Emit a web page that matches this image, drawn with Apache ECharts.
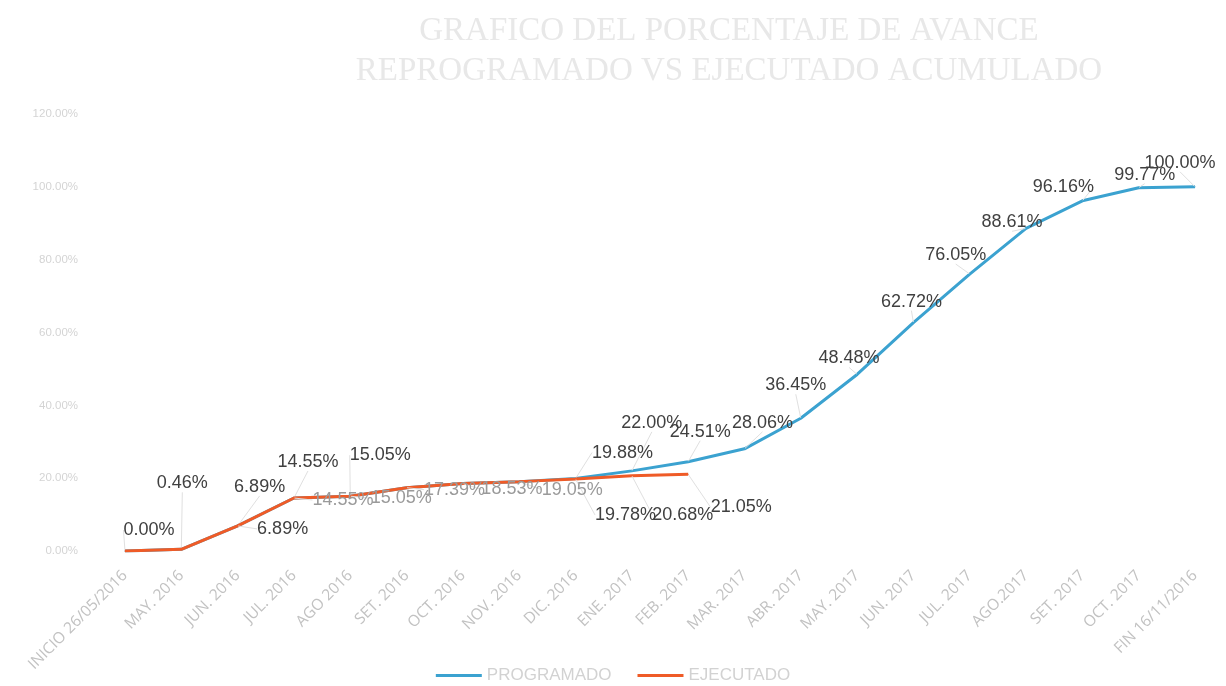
<!DOCTYPE html>
<html>
<head>
<meta charset="utf-8">
<script src="https://cdn.jsdelivr.net/npm/echarts@6/dist/echarts.min.js"></script>
<style>html,body{margin:0;padding:0;background:#fff}#c{width:1226px;height:686px}</style>
</head>
<body>
<div id="c"></div>
<script>
const categories = ['INICIO 26/05/2016','MAY. 2016','JUN. 2016','JUL. 2016','AGO 2016','SET. 2016','OCT. 2016','NOV. 2016','DIC. 2016','ENE. 2017','FEB. 2017','MAR. 2017','ABR. 2017','MAY. 2017','JUN. 2017','JUL. 2017','AGO.2017','SET. 2017','OCT. 2017','FIN 16/11/2016'];
const programado = [0.00, 0.46, 6.89, 14.55, 15.05, 17.39, 18.53, 19.05, 19.88, 22.00, 24.51, 28.06, 36.45, 48.48, 62.72, 76.05, 88.61, 96.16, 99.77, 100.00];
const ejecutado = [0.00, 0.46, 6.89, 14.55, 15.05, 17.39, 18.53, 19.05, 19.78, 20.68, 21.05];
const yTicks = [0, 20, 40, 60, 80, 100, 120];
const seriesNames = ['PROGRAMADO', 'EJECUTADO'];

// label placement (style only): [dx, dy] from the point, null = hidden
const progLabelShift = [[24,-21],[1,-66],[22,-39],[14,-36],[30,-41],null,null,null,[47,-26],[20,-48],[12,-30],[18,-26],[-5,-33],[-8,-16],[-2,-21],[-14,-19],[-14,-6],[-19,-14],[6,-13],[-15,-24]];
const ejecLabelShift = [null,null,[45,3],[49,2],[51,2],[48,2],[49,6],[53,8],[50,36],[51,39],[53,33]];
const ejecGray = [false,false,false,true,true,true,true,true,false,false,false];

function buildData(vals, shifts, grayFlags) {
  return vals.map((v, i) => {
    const s = shifts[i];
    if (!s) return { value: v, label: { show: false } };
    const item = { value: v };
    if (grayFlags && grayFlags[i]) item.label = { color: '#9a9a9a' };
    return item;
  });
}

const chart = echarts.init(document.getElementById('c'));
const labelBase = {
  show: true, position: 'inside', fontFamily: 'Liberation Sans', fontSize: 18, color: '#404040',
  formatter: p => p.value.toFixed(2) + '%'
};
chart.setOption({
  backgroundColor: '#ffffff',
  animation: false,
  title: {
    text: 'GRAFICO DEL PORCENTAJE DE AVANCE\nREPROGRAMADO VS EJECUTADO ACUMULADO',
    left: 724, top: 6, textAlign: 'center',
    textStyle: { fontFamily: 'Liberation Serif', fontSize: 33, lineHeight: 40, fontWeight: 'normal', color: '#e8e8e8' }
  },
  legend: {
    bottom: -3, left: 'center', itemGap: 26, itemWidth: 46, itemHeight: 3, icon: 'rect',
    textStyle: { color: '#d2d2d2', fontSize: 17, fontFamily: 'Liberation Sans' },
    data: seriesNames
  },
  grid: { left: 125, right: 31, top: 114, bottom: 135, containLabel: false },
  xAxis: {
    type: 'category', data: categories, boundaryGap: false,
    axisLine: { show: false }, axisTick: { show: false },
    axisLabel: { rotate: 45, margin: 22, fontSize: 15.5, color: '#c2c2c2', fontFamily: 'Open Sans', interval: 0 }
  },
  yAxis: {
    type: 'value', min: 0, max: 120, interval: 20,
    splitLine: { show: false }, axisLine: { show: false }, axisTick: { show: false },
    axisLabel: { margin: 47, fontSize: 11.5, color: '#d4d4d4', fontFamily: 'Liberation Sans',
      formatter: v => yTicks.includes(v) ? v.toFixed(2) + '%' : '' }
  },
  series: [
    {
      name: seriesNames[0], type: 'line', data: buildData(programado, progLabelShift, null),
      symbol: 'circle', symbolSize: 1, z: 2,
      lineStyle: { color: '#3ba2d0', width: 3 }, itemStyle: { color: '#3ba2d0' },
      label: labelBase,
      labelLine: { show: true, lineStyle: { color: '#e0e0e0', width: 1 } },
      labelLayout: p => { const s = progLabelShift[p.dataIndex]; return s ? { dx: s[0], dy: s[1] } : {}; }
    },
    {
      name: seriesNames[1], type: 'line', data: buildData(ejecutado, ejecLabelShift, ejecGray),
      symbol: 'circle', symbolSize: 1, z: 3,
      lineStyle: { color: '#ef5b27', width: 3 }, itemStyle: { color: '#ef5b27' },
      label: labelBase,
      labelLine: { show: true, lineStyle: { color: '#e0e0e0', width: 1 } },
      labelLayout: p => { const s = ejecLabelShift[p.dataIndex]; return s ? { dx: s[0], dy: s[1] } : {}; }
    }
  ]
});
</script>
</body>
</html>
